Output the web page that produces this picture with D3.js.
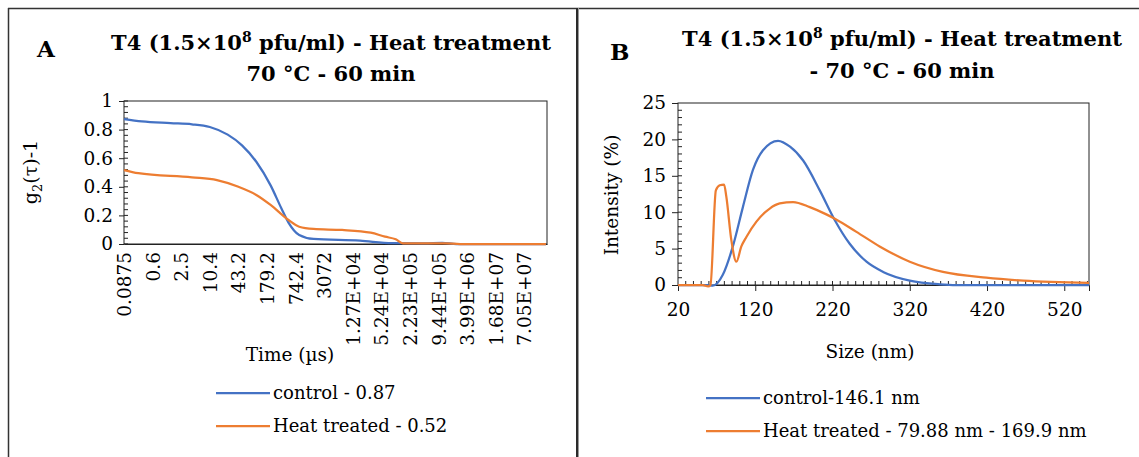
<!DOCTYPE html>
<html>
<head>
<meta charset="utf-8">
<script src="https://cdn.jsdelivr.net/npm/d3@7"></script>
<style>
  body { margin: 0; background: #fff; }
  svg text { font-family: "DejaVu Serif", "Liberation Serif", serif; fill: #000; }
</style>
</head>
<body>
<div id="chart"></div>
<script>
// ---- data ----
// panel A: correlation function, x = correlator channel (one label every 8 channels)
const tauLabels = ["0.0875", "0.6", "2.5", "10.4", "43.2", "179.2", "742.4", "3072",
  "1.27E+04", "5.24E+04", "2.23E+05", "9.44E+05", "3.99E+06", "1.68E+07", "7.05E+07"];
const ctrlChannel = [0, 5, 13, 19, 24, 29, 33, 37, 41, 44, 46, 49, 53, 66, 75, 84, 89, 93, 118];
const ctrlG2 = [0.874, 0.857, 0.845, 0.837, 0.818, 0.765, 0.69, 0.575, 0.41, 0.25, 0.15, 0.063, 0.035, 0.023, 0.006, 0.005, 0.008, 0, 0];
const heatChannel = [0, 4, 19, 26, 32, 37, 41, 46, 49, 53, 61, 69, 73, 76, 78, 90, 94, 118];
const heatG2 = [0.517, 0.495, 0.466, 0.447, 0.40, 0.343, 0.273, 0.168, 0.121, 0.105, 0.098, 0.079, 0.051, 0.033, 0.005, 0.004, 0, 0];

// panel B: size distribution
const ctrlSize = [20, 57, 65, 78, 91, 104, 117, 130, 149.5, 165, 182, 203.5, 223, 242, 264, 285.5, 320, 359, 380, 552];
const ctrlInt = [0, 0, -0.1, 1.4, 5.3, 10.7, 15.8, 18.5, 19.8, 19.0, 17.1, 13.0, 8.9, 5.7, 3.2, 1.8, 0.6, 0.1, 0, 0];
const heatSize = [20, 52, 59, 62, 69, 74, 79.6, 82.6, 89, 95.6, 102, 108.5, 121.5, 138.7, 151.7, 169, 190.6, 212, 223, 251, 281, 320, 363, 419, 467, 552];
const heatInt = [0, 0, -0.2, 0, 13.0, 13.7, 13.8, 12.1, 6.2, 3.2, 5.3, 6.6, 8.7, 10.5, 11.2, 11.4, 10.7, 9.7, 9.1, 7.3, 5.3, 3.2, 1.8, 1.0, 0.6, 0.3];

const legendA = ["control - 0.87", "Heat treated - 0.52"];
const legendB = ["control-146.1 nm", "Heat treated - 79.88 nm - 169.9 nm"];
const seriesColors = ["#4472C4", "#ED7D31"];

// ---- layout ----
const W = 1139, H = 457;
const FONT = "DejaVu Serif";
const svg = d3.select("#chart").append("svg").attr("width", W).attr("height", H);

// page frame
svg.append("line").attr("x1", 8).attr("x2", W).attr("y1", 8.5).attr("y2", 8.5)
  .attr("stroke", "#333").attr("stroke-width", 1.5);
svg.append("line").attr("x1", 8.5).attr("x2", 8.5).attr("y1", 8).attr("y2", H)
  .attr("stroke", "#333").attr("stroke-width", 1.5);
svg.append("rect").attr("x", 576).attr("y", 8).attr("width", 2).attr("height", H).attr("fill", "#2b2b2b");
svg.append("rect").attr("x", 578).attr("y", 8).attr("width", 1).attr("height", H).attr("fill", "#9a9a9a");

function title(cx, y1, y2, line2, letter, lx, ly) {
  svg.append("text").attr("x", lx).attr("y", ly).style("font-size", "23px")
    .style("font-weight", "bold").text(letter);
  const t = svg.append("text").attr("x", cx).attr("y", y1).attr("text-anchor", "middle")
    .style("font-size", "21px").style("font-weight", "bold");
  t.append("tspan").text("T4 (1.5×10");
  t.append("tspan").attr("dy", -8).style("font-size", "14px").text("8");
  t.append("tspan").attr("dy", 8).text(" pfu/ml) - Heat treatment");
  svg.append("text").attr("x", cx).attr("y", y2).attr("text-anchor", "middle")
    .style("font-size", "21px").style("font-weight", "bold").text(line2);
}

function legend(x, y0, labels) {
  labels.forEach((l, i) => {
    const y = y0 + i * 33;
    svg.append("line").attr("x1", x).attr("x2", x + 54).attr("y1", y).attr("y2", y)
      .attr("stroke", seriesColors[i]).attr("stroke-width", 2.25);
    svg.append("text").attr("x", x + 57).attr("y", y).attr("dy", "0.35em")
      .style("font-size", "18px").text(l);
  });
}

// ---- panel A ----
const A = {left: 124, right: 547, top: 101, bottom: 244};
const xA = d3.scaleLinear().domain([0, 118.3]).range([A.left, A.right]);
const yA = d3.scaleLinear().domain([0, 1]).range([A.bottom, A.top]);

title(331, 50, 81, "70 °C - 60 min", "A", 37, 57);

const gA = svg.append("g");
gA.append("rect").attr("x", A.left).attr("y", A.top).attr("width", A.right - A.left)
  .attr("height", A.bottom - A.top).attr("fill", "none").attr("stroke", "#222").attr("stroke-width", 1);

// minor y ticks (inside)
gA.selectAll(".minA").data(d3.range(0, 1.001, 0.04)).join("line")
  .attr("x1", A.left).attr("x2", A.left + 4).attr("y1", d => yA(d)).attr("y2", d => yA(d))
  .attr("stroke", "#222");
const yAxA = gA.append("g").attr("transform", `translate(${A.left},0)`)
  .call(d3.axisLeft(yA).tickValues([0, 0.2, 0.4, 0.6, 0.8, 1]).tickSize(5).tickPadding(6)
    .tickFormat(d => String(+d.toFixed(1))));
yAxA.select(".domain").remove();
yAxA.selectAll("line").attr("stroke", "#222");
yAxA.selectAll("text").style("font-size", "18.5px").style("font-family", FONT);

const xAxA = gA.append("g").attr("transform", `translate(0,${A.bottom})`)
  .call(d3.axisBottom(xA).tickValues(d3.range(0, tauLabels.length * 8, 8)).tickSize(0)
    .tickFormat(d => tauLabels[d / 8]));
xAxA.select(".domain").attr("stroke", "#222");
xAxA.selectAll("text").attr("transform", "rotate(-90)").attr("x", -8).attr("y", 0)
  .attr("dy", "0.35em").attr("text-anchor", "end")
  .style("font-size", "18.5px").style("font-family", FONT);

gA.append("text").attr("x", 290).attr("y", 361).attr("text-anchor", "middle")
  .style("font-size", "18.5px").text("Time (µs)");
const yTitle = gA.append("text").attr("transform", "translate(37,172) rotate(-90)")
  .attr("text-anchor", "middle").style("font-size", "19px");
yTitle.append("tspan").text("g");
yTitle.append("tspan").attr("dy", 5).style("font-size", "13px").text("2");
yTitle.append("tspan").attr("dy", -5).text("(τ)-1");

const lineA = d3.line().x(d => xA(d[0])).y(d => yA(d[1])).curve(d3.curveMonotoneX);
[[ctrlChannel, ctrlG2], [heatChannel, heatG2]].forEach(([xs, ys], i) => {
  gA.append("path").attr("d", lineA(d3.zip(xs, ys))).attr("fill", "none")
    .attr("stroke", seriesColors[i]).attr("stroke-width", 2.25);
});
legend(216, 393, legendA);

// ---- panel B ----
const B = {left: 678, right: 1089, top: 103, bottom: 285};
const xB = d3.scaleLinear().domain([20, 552]).range([B.left, B.right]);
const yB = d3.scaleLinear().domain([0, 25]).range([B.bottom, B.top]);

title(902, 46, 78, "- 70 °C - 60 min", "B", 610, 60);

const gB = svg.append("g");
gB.append("rect").attr("x", B.left).attr("y", B.top).attr("width", B.right - B.left)
  .attr("height", B.bottom - B.top).attr("fill", "none").attr("stroke", "#222").attr("stroke-width", 1);

gB.selectAll(".minBy").data(d3.range(0, 25, 1)).join("line")
  .attr("x1", B.left).attr("x2", B.left + 4).attr("y1", d => yB(d)).attr("y2", d => yB(d))
  .attr("stroke", "#222");
gB.selectAll(".minBx").data(d3.range(30, 552, 10)).join("line")
  .attr("x1", d => xB(d)).attr("x2", d => xB(d)).attr("y1", B.bottom - 4).attr("y2", B.bottom)
  .attr("stroke", "#222");

const yAxB = gB.append("g").attr("transform", `translate(${B.left},0)`)
  .call(d3.axisLeft(yB).tickValues([0, 5, 10, 15, 20, 25]).tickSize(6).tickPadding(6));
yAxB.select(".domain").remove();
yAxB.selectAll("line").attr("stroke", "#222");
yAxB.selectAll("text").style("font-size", "18.5px").style("font-family", FONT);

const xAxB = gB.append("g").attr("transform", `translate(0,${B.bottom})`)
  .call(d3.axisBottom(xB).tickValues([20, 120, 220, 320, 420, 520]).tickSize(6).tickPadding(12));
xAxB.select(".domain").attr("stroke", "#222");
xAxB.selectAll("line").attr("stroke", "#222");
xAxB.selectAll("text").style("font-size", "18.5px").style("font-family", FONT);

gB.append("text").attr("x", 870).attr("y", 358).attr("text-anchor", "middle")
  .style("font-size", "18.5px").text("Size (nm)");
gB.append("text").attr("transform", "translate(618,195) rotate(-90)")
  .attr("text-anchor", "middle").style("font-size", "18.5px").text("Intensity (%)");

const lineB = d3.line().x(d => xB(d[0])).y(d => yB(d[1])).curve(d3.curveMonotoneX);
[[ctrlSize, ctrlInt], [heatSize, heatInt]].forEach(([xs, ys], i) => {
  gB.append("path").attr("d", lineB(d3.zip(xs, ys))).attr("fill", "none")
    .attr("stroke", seriesColors[i]).attr("stroke-width", 2.25);
});
legend(706, 398, legendB);
</script>
</body>
</html>
